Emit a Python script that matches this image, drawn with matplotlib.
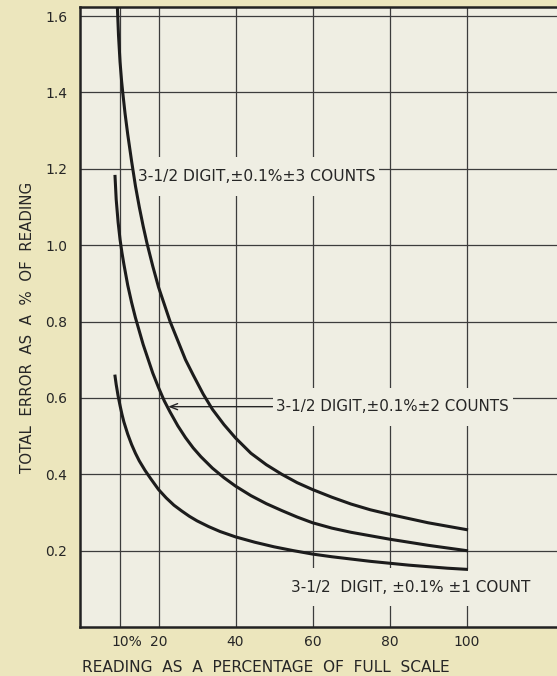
import matplotlib.pyplot as plt
import matplotlib.transforms as mtransforms

# values
# x = reading as % of full scale, y = total error as % of reading
x_3counts = [9.3, 9.6, 10.0, 10.4, 10.7, 11.3, 12.0, 13.0, 14.0, 15.0, 16.0, 17.0, 18.5, 20.0, 21.5,
             23.0, 25.0, 27.0, 29.0, 31.6, 34.0, 37.0, 40.0, 44.0, 48.0, 52.0, 56.0, 60.0, 65.0,
             70.0, 75.0, 80.0, 85.0, 90.0, 95.0, 100.0]
y_3counts = [1.625, 1.55, 1.48, 1.43, 1.40, 1.345, 1.29, 1.22, 1.155, 1.10, 1.05, 1.005, 0.945, 0.89, 0.845,
             0.80, 0.75, 0.70, 0.66, 0.61, 0.57, 0.53, 0.495, 0.455, 0.425, 0.40, 0.378, 0.36, 0.34,
             0.322, 0.307, 0.295, 0.284, 0.273, 0.264, 0.255]

x_2counts = [8.7, 9.0, 9.5, 10.0, 10.5, 11.0, 12.0, 13.0, 14.0, 15.0, 16.0, 17.0, 18.5, 20.0, 21.5,
             23.0, 25.0, 27.0, 29.0, 31.0, 34.0, 37.0, 40.0, 44.0, 48.0, 52.0, 56.0, 60.0, 65.0,
             70.0, 75.0, 80.0, 85.0, 90.0, 95.0, 100.0]
y_2counts = [1.18, 1.12, 1.06, 1.015, 0.98, 0.95, 0.895, 0.85, 0.81, 0.775, 0.74, 0.71, 0.665, 0.627, 0.592,
             0.563, 0.527, 0.496, 0.469, 0.446, 0.416, 0.391, 0.369, 0.344, 0.323, 0.305, 0.288, 0.273, 0.259,
             0.248, 0.239, 0.23, 0.222, 0.214, 0.207, 0.20]

x_1count = [8.7, 9.0, 9.5, 10.0, 10.5, 11.0, 12.0, 13.0, 14.0, 15.0, 16.5, 18.0, 20.0, 22.0, 24.0,
            26.0, 28.0, 30.0, 33.0, 36.0, 40.0, 45.0, 50.0, 55.0, 60.0, 65.0, 70.0, 75.0, 80.0,
            85.0, 90.0, 95.0, 100.0]
y_1count = [0.657, 0.635, 0.605, 0.58, 0.557, 0.537, 0.505, 0.478, 0.455, 0.435, 0.41, 0.388, 0.36, 0.338, 0.319,
            0.304, 0.29, 0.278, 0.263, 0.25, 0.236, 0.222, 0.21, 0.2, 0.191, 0.184, 0.178, 0.172, 0.167,
            0.162, 0.158, 0.154, 0.151]

x_ticks = [10, 20, 40, 60, 80, 100]
x_ticklabels = ['10%', '20', '40', '60', '80', '100']
y_ticks = [0.2, 0.4, 0.6, 0.8, 1.0, 1.2, 1.4, 1.6]

label_3 = '3-1/2 DIGIT,\u00b10.1%\u00b13 COUNTS'
label_2 = '3-1/2 DIGIT,\u00b10.1%\u00b12 COUNTS'
label_1 = '3-1/2  DIGIT, \u00b10.1% \u00b11 COUNT'

outer = '#ece6bd'
inner = '#efeee3'
ink = '#262626'

fig = plt.figure(figsize=(5.57, 6.76), dpi=100, facecolor=outer)
ax = fig.add_axes([80/557, 49/676, 477/557, 620.5/676], facecolor=inner)

ax.plot(x_3counts, y_3counts, color='#1c1c1c', lw=2.2, zorder=5)
ax.plot(x_2counts, y_2counts, color='#1c1c1c', lw=2.2, zorder=5)
ax.plot(x_1count, y_1count, color='#1c1c1c', lw=2.2, zorder=5)

ax.set_xlim(-0.4, 123.5)
ax.set_ylim(0, 1.625)
ax.set_xticks(x_ticks)
ax.set_xticklabels(x_ticklabels)
ax.set_yticks(y_ticks)
ax.set_yticklabels(['%.1f' % v for v in y_ticks])
ax.tick_params(length=0, labelsize=10, labelcolor=ink)
ax.tick_params(axis='y', pad=9)
ax.tick_params(axis='x', pad=6)
ax.grid(True, color='#3c3c3c', lw=0.9)
ax.set_axisbelow(True)

for side in ['left', 'bottom', 'top']:
    ax.spines[side].set_linewidth(1.8)
    ax.spines[side].set_color('#222222')
ax.spines['right'].set_visible(False)

# "10%" sits with the 10 under the grid line
lab = ax.get_xticklabels()[0]
lab.set_transform(lab.get_transform() + mtransforms.ScaledTranslation(5/72, 0, fig.dpi_scale_trans))

box = dict(boxstyle='square,pad=0.25', fc=inner, ec='none', mutation_aspect=3)
ax.text(14.6, 1.18, label_3, fontsize=11.2, color=ink, va='center', ha='left',
        bbox=box, zorder=4)
ax.annotate(label_2, xy=(22.5, 0.577), xytext=(50.6, 0.577), fontsize=10.9, color=ink,
            va='center', ha='left', bbox=box, zorder=4,
            arrowprops=dict(arrowstyle='->,head_length=0.5,head_width=0.2', lw=1.0,
                            color=ink, shrinkA=0, shrinkB=0))
ax.text(54.5, 0.104, label_1, fontsize=11, color=ink, va='center', ha='left',
        bbox=box, zorder=4)

fig.text(82/557, 1 - 668/676, 'READING  AS  A  PERCENTAGE  OF  FULL  SCALE',
         fontsize=11.1, color=ink, ha='left', va='center')
fig.text(28/557, 1 - 327/676, 'TOTAL  ERROR  AS  A  %  OF  READING',
         fontsize=10.8, color=ink, ha='center', va='center', rotation=90)

fig.savefig('out.png', dpi=100, facecolor=outer)
